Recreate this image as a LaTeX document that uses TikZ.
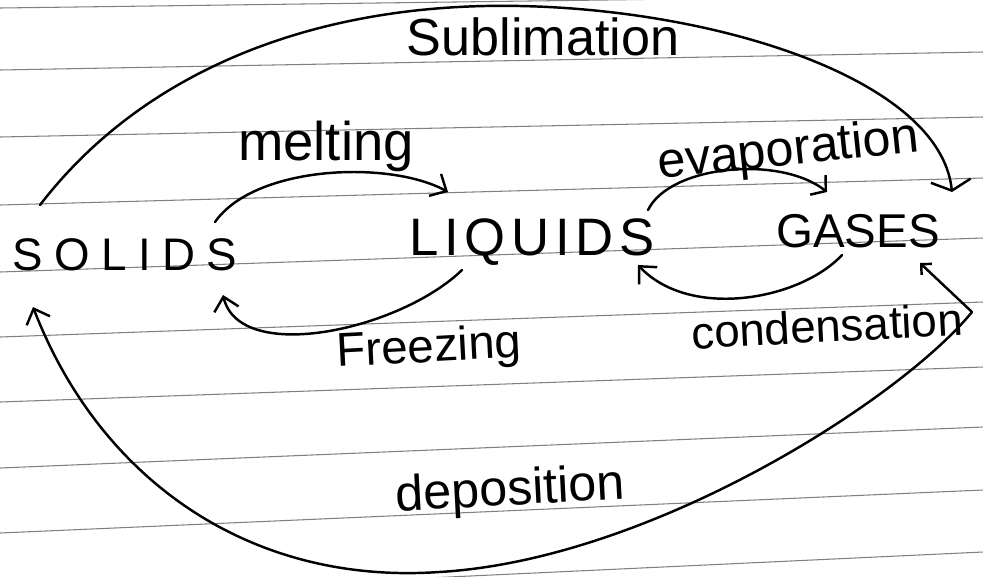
\documentclass[tikz,border=0pt]{standalone}
\usepackage{fontspec}
\setmainfont{Liberation Sans}
\usetikzlibrary{arrows.meta}
\begin{document}
\begin{tikzpicture}[x=0.02cm,y=-0.02cm,
  ink/.style={line width=1.4pt, line cap=round, line join=round},
  ruled/.style={black!50, line width=0.6pt},
  barb/.style={-{Straight Barb[length=2.6mm,width=5mm]}},
  state/.style={inner sep=0pt, anchor=base},
  lab/.style={inner sep=0pt, anchor=base}]
\useasboundingbox[fill=white] (0,0) rectangle (983,576);
% ruled paper
\begin{scope}
\clip (0,0) rectangle (983,576);
\foreach \l/\r in {8/-5,70/52,137/117,205/178,272/238,337/302,402/367,468/427,533/490,598/552}
  \draw[ruled] (0,\l) -- (983,\r);
\end{scope}
% states
\node[state, font=\fontsize{26}{26}\selectfont\addfontfeature{LetterSpace=25}] (solids) at (125,270) {SOLIDS};
\node[state, font=\fontsize{30}{30}\selectfont\addfontfeature{LetterSpace=11}] (liquids) at (532,255) {LIQUIDS};
\node[state, font=\fontsize{27}{27}\selectfont] (gases) at (858,247) {GASES};
% labels
\node[lab, font=\fontsize{29.7}{30}\selectfont] (subl) at (543,55) {Sublimation};
\node[lab, font=\fontsize{31}{31}\selectfont] (melt) at (326,160) {melting};
\node[lab, rotate=6, font=\fontsize{28.6}{29}\selectfont] (evap) at (790,165) {evaporation};
\node[lab, rotate=3, font=\fontsize{27}{27}\selectfont] (freez) at (430,362) {Freezing};
\node[lab, rotate=3, font=\fontsize{26}{26}\selectfont] (cond) at (828,342) {condensation};
\node[lab, rotate=3, font=\fontsize{28.6}{29}\selectfont] (depo) at (511,505) {deposition};
% helper coordinates
\coordinate (sublTop) at (520,6);
\coordinate (depCorner) at (972,312);
\coordinate (depBottom) at (439,572);
% sublimation
\draw[ink, -{Straight Barb[length=2mm,width=8mm]}]
  ([shift={(-85,-65)}]solids.base) .. controls (150,62) and (330,2) .. (sublTop)
  .. controls (720,10) and (940,80) .. ([shift={(94,-55)}]gases.base);
% melting
\draw[ink, barb] ([shift={(90,-48)}]solids.base) .. controls (255,165) and (390,160) .. ([shift={(-84,-63)}]liquids.base);
% evaporation
\draw[ink, -{Straight Barb[length=2mm,width=5mm]}] ([shift={(116,-45)}]liquids.base) .. controls (670,165) and (780,155) .. ([shift={(-31,-55)}]gases.base);
% freezing
\draw[ink, barb] ([shift={(-70,15)}]liquids.base) .. controls (400,330) and (240,365) .. ([shift={(98,25)}]solids.base);
% condensation
\draw[ink, barb] ([shift={(-16,8)}]gases.base) .. controls (800,300) and (690,320) .. ([shift={(106,10)}]liquids.base);
% deposition
\draw[ink, {Straight Barb[length=1.5mm,width=3mm]}-{Straight Barb[length=2.6mm,width=5mm]}]
  ([shift={(62,16)}]gases.base) -- (depCorner)
  .. controls (900,400) and (650,560) .. (depBottom)
  .. controls (250,585) and (100,480) .. ([shift={(-92,37)}]solids.base);
\end{tikzpicture}
\end{document}
